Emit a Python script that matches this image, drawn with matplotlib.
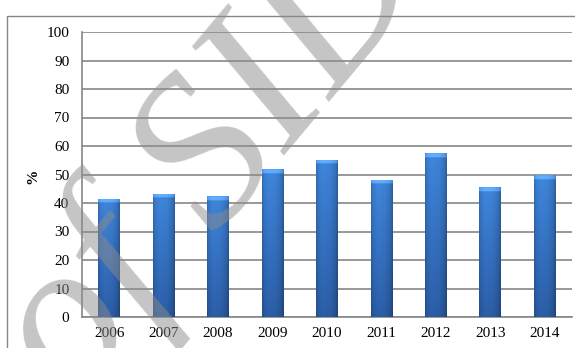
import numpy as np
import matplotlib.pyplot as plt
from matplotlib.patches import Rectangle

# Datos
years = ['2006', '2007', '2008', '2009', '2010', '2011', '2012', '2013', '2014']
values = [41.5, 43.3, 42.3, 51.9, 55.1, 48.2, 57.4, 45.5, 49.8]
yticks = [0, 10, 20, 30, 40, 50, 60, 70, 80, 90, 100]

serif = ['Liberation Serif', 'DejaVu Serif']
grey = '#868686'

fig = plt.figure(figsize=(5.75, 3.48), dpi=100)
ax = fig.add_axes([82 / 575, 1 - 317 / 348, 490 / 575, 285 / 348])

# Marco exterior (cortado a la derecha y abajo)
fig.patches.append(Rectangle((7 / 575, -0.2), 1.2, 1 - 16 / 348 + 0.2,
                             transform=fig.transFigure, fill=False,
                             edgecolor=grey, lw=1.0))

x = np.arange(len(years))
bars = ax.bar(x, values, width=0.40, color='#3a7ad2', zorder=2)

# Degradado tipo "bisel" en cada barra
top_col = np.array([0.25, 0.53, 0.87])
bot_col = np.array([0.17, 0.37, 0.66])
hx = np.linspace(0, 1, 40)
hfac = np.interp(hx, [0, 0.08, 0.3, 0.65, 0.9, 1], [0.8, 0.92, 1.0, 0.97, 0.85, 0.7])
for b, v in zip(bars, values):
    n = max(int(v * 10), 30)
    t = np.linspace(0, 1, n)[:, None, None]          # 0 arriba, 1 abajo
    vcol = top_col[None, None, :] * (1 - t) + bot_col[None, None, :] * t
    img = vcol * hfac[None, :, None]
    cap = 15
    img[:cap] = np.clip(img[:cap] * 1.12 + 0.10, 0, 1)
    img[0] = img[0] * 0.85
    x0 = b.get_x()
    im = ax.imshow(img, extent=[x0, x0 + b.get_width(), 0, v],
                   origin='upper', aspect='auto', zorder=3, interpolation='bilinear')
    im.set_clip_path(b)

ax.set_xlim(-0.5, len(years) - 0.5)
ax.set_ylim(0, 100)
ax.set_yticks(yticks)
ax.set_xticks(x)
ax.set_xticklabels(years)
ax.yaxis.grid(True, color=grey, lw=1.2, zorder=0)
ax.set_axisbelow(True)
for s in ['top', 'right']:
    ax.spines[s].set_visible(False)
for s in ['left', 'bottom']:
    ax.spines[s].set_color(grey)
    ax.spines[s].set_linewidth(1.2)
ax.tick_params(length=0)
ax.tick_params(axis='y', pad=9)
ax.tick_params(axis='x', pad=7)
for lab in ax.get_xticklabels() + ax.get_yticklabels():
    lab.set_family(serif)
    lab.set_fontsize(11)

fig.text(33 / 575, 1 - 176 / 348, '%', rotation=90, family=serif,
         fontweight='bold', fontsize=11, ha='center', va='center')

# Marca de agua
fig.text(212 / 575, 1 - 160 / 348, 'of SID', rotation=50, family=serif,
         style='italic', fontsize=155, color='#8c8c8c', alpha=0.5,
         ha='center', va='center', zorder=10)

fig.savefig('out.png', dpi=100)
